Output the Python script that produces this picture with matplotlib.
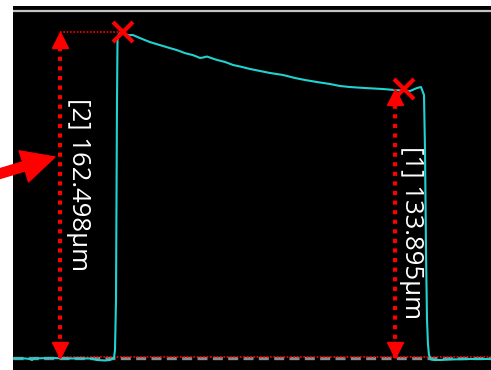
"""
Step height profile with two height measurements
"""

import numpy as np
import matplotlib.pyplot as plt
from matplotlib.transforms import offset_copy

# profile (position, height in um)
pos = [0, 12, 17, 19, 21, 37, 57, 77, 84, 92, 97, 101, 102, 103, 103.5, 104, 104.5,
       106, 108.5, 111, 115, 120, 127, 137, 147, 157, 164, 172, 180, 185, 187, 190,
       194, 198, 204, 212, 220, 229, 237, 247, 257, 270, 282, 292, 304, 317, 327,
       337, 352, 370, 382, 397, 404, 408, 411, 412, 413, 414, 415, 416, 418, 421,
       427, 437, 457, 478]
height = [-0.25, -0.25, -0.5, -1.0, -0.25, 0.0, -0.25, -0.25, -1.0, -1.25, -1.0,
          0.0, 4.0, 28.9, 78.8, 128.6, 158.5, 161.5, 162.5, 161.8, 161.0, 161.0,
          159.5, 157.5, 156.0, 154.5, 153.5, 152.0, 151.0, 150.0, 149.6, 149.8,
          150.3, 149.6, 148.6, 147.6, 146.1, 145.1, 144.1, 143.1, 142.1, 141.1,
          139.6, 138.6, 137.6, 136.6, 135.6, 135.1, 134.6, 134.1, 133.6, 133.1,
          134.6, 135.1, 131.1, 103.7, 53.8, 18.9, 6.5, 1.5, -0.75, -1.0, -1.0,
          -0.75, -0.5, -0.5]

# measurements
meas_x = [47, 382]            # where the dimension arrows sit
meas_h = [162.498, 133.895]
peak_x = [110, 391]           # cross markers on the profile
labels = ['[2] 162.498µm', '[1] 133.895µm']
label_x = [66, 399]
label_y = [86.7, 62.3]

red = '#ff0000'
cyan = '#22d2d2'

fig = plt.figure(figsize=(4.91, 3.70), dpi=100, facecolor='white')
ax = fig.add_axes([13 / 491, 0, 478 / 491, 364 / 370])
ax.set_facecolor('black')
ax.set_xlim(0, 478)
ax.set_ylim(-6.0, 175.5)
ax.set_xticks([])
ax.set_yticks([])
for s in ax.spines.values():
    s.set_visible(False)

# top grey bar of the viewer
ax.plot([0, 1], [0.986, 0.986], transform=ax.transAxes, color='#c4c4c4', lw=1.6)

# zero level
ax.axhline(0, color='#8a8a8a', lw=2.4, linestyle=(0, (3, 1.6)))
ax.plot([meas_x[0], 478], [0.6, 0.6], color=red, lw=1.2, linestyle=(0, (1, 1)))
ax.plot([meas_x[0], peak_x[0]], [meas_h[0], meas_h[0]], color=red, lw=1.2,
        linestyle=(0, (1, 1)))

ax.plot(pos, height, color=cyan, lw=1.5)

up = offset_copy(ax.transData, fig=fig, y=-5.4, units='points')
down = offset_copy(ax.transData, fig=fig, y=5.4, units='points')
for x, h, px, lab, lx, ly in zip(meas_x, meas_h, peak_x, labels, label_x, label_y):
    ax.plot([x, x], [0, h], color=red, lw=3, linestyle=(0, (1, 1.3)),
            dash_capstyle='butt')
    ax.plot([x], [h], marker='^', color=red, markersize=11, transform=up)
    ax.plot([x], [0], marker='v', color=red, markersize=11, transform=down)
    ax.plot([px], [h], marker='x', color=red, markersize=14, mew=3)
    ax.text(lx, ly, lab, color='white', rotation=-90, ha='center', va='center',
            fontsize=18.5, family=['Open Sans', 'DejaVu Sans'])

# pointer arrow coming in from the left
ax.annotate('', xy=(55, 213), xycoords='figure pixels',
            xytext=(-8, 194), textcoords='figure pixels',
            arrowprops=dict(arrowstyle='simple,head_length=1.3,head_width=1.3,tail_width=0.38',
                            color=red, mutation_scale=18, shrinkA=0, shrinkB=0),
            annotation_clip=False)

fig.savefig('out.png', dpi=100, facecolor='white')
plt.close(fig)
